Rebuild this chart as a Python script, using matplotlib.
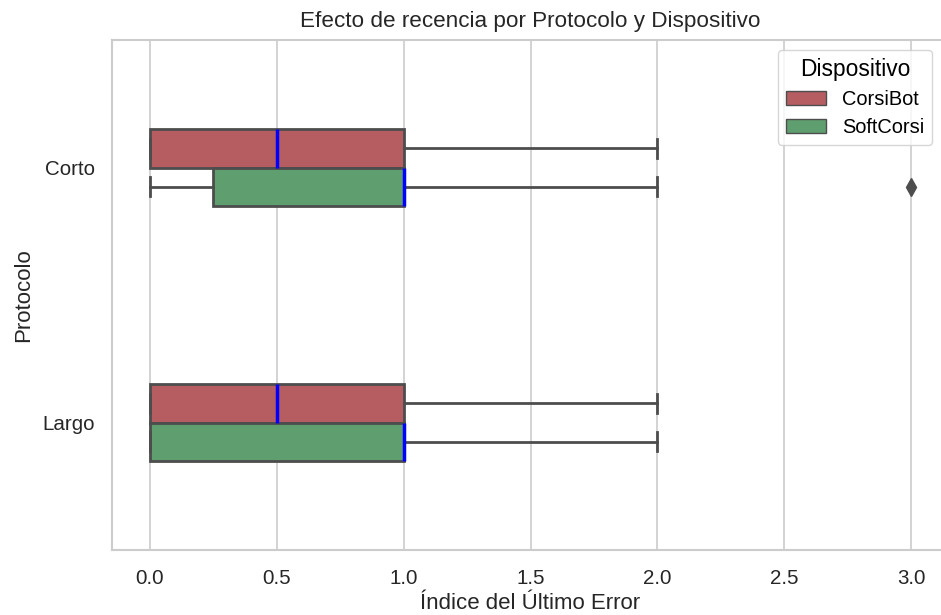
import matplotlib
matplotlib.use("Agg")
import matplotlib.pyplot as plt
from matplotlib.patches import Patch

plt.rcParams['font.family'] = ['Liberation Sans', 'DejaVu Sans']

protocols = ["Corto", "Largo"]
devices = ["CorsiBot", "SoftCorsi"]
colors = ["#b55d60", "#5f9e6e"]

# box statistics per device, ordered by protocol (Corto, Largo)
whislo = {"CorsiBot": [0.0, 0.0], "SoftCorsi": [0.0, 0.0]}
q1 = {"CorsiBot": [0.0, 0.0], "SoftCorsi": [0.25, 0.0]}
med = {"CorsiBot": [0.5, 0.5], "SoftCorsi": [1.0, 1.0]}
q3 = {"CorsiBot": [1.0, 1.0], "SoftCorsi": [1.0, 1.0]}
whishi = {"CorsiBot": [2.0, 2.0], "SoftCorsi": [2.0, 2.0]}
fliers = {"CorsiBot": [[], []], "SoftCorsi": [[3.0], []]}

fig = plt.figure(figsize=(9.41, 6.15), dpi=100)
ax = fig.add_axes([112/941, 1-550/615, 837/941, 510/615])

box_h = 0.15
offsets = [-0.075, 0.075]
edge = "#4d4d4d"
for d, dev in enumerate(devices):
    stats = []
    for i, p in enumerate(protocols):
        stats.append(dict(whislo=whislo[dev][i], q1=q1[dev][i], med=med[dev][i],
                          q3=q3[dev][i], whishi=whishi[dev][i], fliers=fliers[dev][i]))
    pos = [i + offsets[d] for i in range(len(protocols))]
    ax.bxp(stats, positions=pos, widths=box_h, vert=False, patch_artist=True,
           boxprops=dict(facecolor=colors[d], edgecolor=edge, linewidth=2),
           whiskerprops=dict(color=edge, linewidth=2),
           capprops=dict(color=edge, linewidth=2),
           medianprops=dict(color="blue", linewidth=2.5),
           flierprops=dict(marker="d", markerfacecolor=edge, markeredgecolor=edge,
                           markersize=9),
           manage_ticks=False, zorder=3)

ax.set_xlim(-0.15, 3.15)
ax.set_ylim(1.5, -0.5)
ax.set_yticks(range(len(protocols)))
ax.set_yticklabels(protocols)
ax.set_xticks([0.0, 0.5, 1.0, 1.5, 2.0, 2.5, 3.0])
ax.set_xticklabels(["0.0", "0.5", "1.0", "1.5", "2.0", "2.5", "3.0"])
ax.grid(axis="x", color="#cccccc", linewidth=1.2, zorder=0)
ax.set_axisbelow(True)
for s in ax.spines.values():
    s.set_color("#cccccc")
    s.set_linewidth(1.5)
ax.tick_params(axis="x", length=0, labelsize=14.8, colors="#262626", pad=13.5)
ax.tick_params(axis="y", length=0, labelsize=14.8, colors="#262626", pad=12.5)
ax.set_xlabel("Índice del Último Error", fontsize=16, color="#262626", labelpad=3.5)
ax.set_ylabel("Protocolo", fontsize=16, color="#262626", labelpad=6)
ax.set_title("Efecto de recencia por Protocolo y Dispositivo", fontsize=16.2,
             color="#262626", pad=9)

handles = [Patch(facecolor=colors[i], edgecolor=edge, label=devices[i]) for i in range(2)]
leg = ax.legend(handles=handles, title="Dispositivo", loc="upper right",
                bbox_to_anchor=((932-112)/837, 1 - 10/510),
                fontsize=14.4, title_fontsize=16.4, frameon=True, fancybox=True,
                handlelength=2.0, handleheight=0.7, labelspacing=0.45,
                borderaxespad=0)
leg.get_frame().set_edgecolor("#cccccc")

fig.savefig("out.png", dpi=100)
